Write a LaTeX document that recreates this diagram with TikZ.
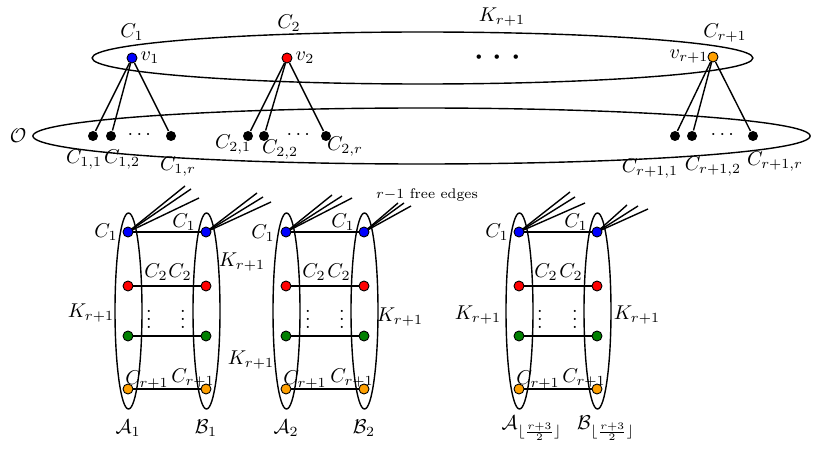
\documentclass[tikz,border=0pt]{standalone}
\usepackage{amsmath}
\begin{document}
\definecolor{vorange}{RGB}{255,160,0}
\definecolor{vgreen}{RGB}{0,128,0}
\begin{tikzpicture}[x=0.5pt,y=-0.5pt,line width=0.7pt,
  vtx/.style={circle,draw=black,inner sep=0pt,minimum size=5pt,line width=0.45pt},
  bdot/.style={circle,fill=black,inner sep=0pt,minimum size=5pt},
  lbl/.style={inner sep=0pt}]
\useasboundingbox (0,0) rectangle (830,449);

% ---- top part ----
\draw (422.5,58) ellipse [x radius=165.2pt, y radius=13pt];
\draw (421.5,136) ellipse [x radius=194.3pt, y radius=14pt];

\node[vtx,fill=blue] (v1) at (132,58) {};
\node[vtx,fill=red] (v2) at (287,58) {};
\node[vtx,fill=vorange] (vr) at (713,57) {};

\node[bdot] (c11) at (93,136) {};
\node[bdot] (c12) at (111,136) {};
\node[bdot] (c1r) at (171,136) {};
\node[bdot] (c21) at (248,136) {};
\node[bdot] (c22) at (264,136) {};
\node[bdot] (c2r) at (326,136) {};
\node[bdot] (cr1) at (675,136) {};
\node[bdot] (cr2) at (692,136) {};
\node[bdot] (crr) at (753,136) {};

\foreach \s in {c11,c12,c1r} \draw (v1) -- (\s);
\foreach \s in {c21,c22,c2r} \draw (v2) -- (\s);
\foreach \s in {cr1,cr2,crr} \draw (vr) -- (\s);

\node[lbl] (lC1) at (132,32) {$C_1$};
\node[lbl] (lC2) at (289,23) {$C_2$};
\node[lbl] (lK) at (502,17) {$K_{r+1}$};
\node[lbl] (lCr) at (725,33) {$C_{r+1}$};
\node[lbl] (lv1) at (150,58) {$v_1$};
\node[lbl] (lv2) at (305,58) {$v_2$};
\node[lbl] (lvr) at (689,57) {$v_{r+1}$};
\node[lbl] (tdots) at (501,58) {\huge$\cdots$};
\node[lbl] (lO) at (18,136) {$\mathcal{O}$};
\node[lbl] (d1) at (141,135) {$\cdots$};
\node[lbl] (d2) at (300,135) {$\cdots$};
\node[lbl] (d3) at (724,135) {$\cdots$};
\node[lbl] (l11) at (84,160) {$C_{1,1}$};
\node[lbl] (l12) at (122,160) {$C_{1,2}$};
\node[lbl] (l1r) at (178,167) {$C_{1,r}$};
\node[lbl] (l21) at (233,145) {$C_{2,1}$};
\node[lbl] (l22) at (280,150) {$C_{2,2}$};
\node[lbl] (l2r) at (345,147) {$C_{2,r}$};
\node[lbl] (lr1) at (650,169) {$C_{r+1,1}$};
\node[lbl] (lr2) at (713,167) {$C_{r+1,2}$};
\node[lbl] (lrr) at (775,162) {$C_{r+1,r}$};

% ---- lower groups ----
\foreach \g/\ax/\bx in {1/128/206, 2/286/364, 3/519/597} {
  \draw (\ax+0.5,311) ellipse [x radius=6.75pt, y radius=49pt];
  \draw (\bx+0.5,311) ellipse [x radius=6.75pt, y radius=49pt];
}

% free edges
\coordinate (e1a1) at (185,186); \coordinate (e1a2) at (191,189); \coordinate (e1a3) at (199,198);
\coordinate (e1b1) at (257,193); \coordinate (e1b2) at (263,197); \coordinate (e1b3) at (271,202);
\coordinate (e2a1) at (332,195); \coordinate (e2a2) at (342,196); \coordinate (e2a3) at (352,198);
\coordinate (e2b1) at (398,203); \coordinate (e2b2) at (404,203); \coordinate (e2b3) at (411,206);
\coordinate (e3a1) at (570,192); \coordinate (e3a2) at (575,197); \coordinate (e3a3) at (585,203);
\coordinate (e3b1) at (627,205); \coordinate (e3b2) at (638,206); \coordinate (e3b3) at (648,209);

\foreach \g/\ax/\bx in {1/128/206, 2/286/364, 3/519/597} {
  \coordinate (pa\g) at (\ax,232);
  \coordinate (pb\g) at (\bx,232);
  \foreach \k in {1,2,3} {
    \draw (pa\g) -- (e\g a\k);
    \draw (pb\g) -- (e\g b\k);
  }
  \node[vtx,fill=blue] (a\g b) at (\ax,232) {};
  \node[vtx,fill=red] (a\g r) at (\ax,286) {};
  \node[vtx,fill=vgreen] (a\g g) at (\ax,336) {};
  \node[vtx,fill=vorange] (a\g o) at (\ax,389) {};
  \node[vtx,fill=blue] (b\g b) at (\bx,232) {};
  \node[vtx,fill=red] (b\g r) at (\bx,286) {};
  \node[vtx,fill=vgreen] (b\g g) at (\bx,336) {};
  \node[vtx,fill=vorange] (b\g o) at (\bx,389) {};
  \foreach \c in {b,r,g,o} \draw (a\g\c) -- (b\g\c);
}

% group 1 labels
\node[lbl] (g1c1l) at (106,232) {$C_1$};
\node[lbl] (g1c1r) at (184,222) {$C_1$};
\node[lbl] (g1k1) at (242,262) {$K_{r+1}$};
\node[lbl] (g1c2l) at (156,272) {$C_2$};
\node[lbl] (g1c2r) at (180,272) {$C_2$};
\node[lbl] (g1vd1) at (149,313) {$\vdots$};
\node[lbl] (g1vd2) at (183,313) {$\vdots$};
\node[lbl] (g1k2) at (251,360) {$K_{r+1}$};
\node[lbl] (g1crl) at (147,380) {$C_{r+1}$};
\node[lbl] (g1crr) at (193,378) {$C_{r+1}$};
\node[lbl] (g1A) at (128,428) {$\mathcal{A}_1$};
\node[lbl] (g1B) at (206,428) {$\mathcal{B}_1$};
\node[lbl] (g1k0) at (91,313) {$K_{r+1}$};

% group 2 labels
\node[lbl] (g2c1l) at (263,233) {$C_1$};
\node[lbl] (g2c1r) at (343,222) {$C_1$};
\node[lbl] (g2c2l) at (314,272) {$C_2$};
\node[lbl] (g2c2r) at (339,272) {$C_2$};
\node[lbl] (g2vd1) at (308,313) {$\vdots$};
\node[lbl] (g2vd2) at (342,313) {$\vdots$};
\node[lbl] (g2k) at (400,317) {$K_{r+1}$};
\node[lbl] (g2crl) at (305,380) {$C_{r+1}$};
\node[lbl] (g2crr) at (352,378) {$C_{r+1}$};
\node[lbl] (g2A) at (286,428) {$\mathcal{A}_2$};
\node[lbl] (g2B) at (364,428) {$\mathcal{B}_2$};
\node[lbl] (free) at (427,195) {\scriptsize $r{-}1$ free edges};

% group 3 labels
\node[lbl] (g3c1l) at (497,232) {$C_1$};
\node[lbl] (g3c1r) at (576,222) {$C_1$};
\node[lbl] (g3c2l) at (546,272) {$C_2$};
\node[lbl] (g3c2r) at (571,272) {$C_2$};
\node[lbl] (g3vd1) at (540,313) {$\vdots$};
\node[lbl] (g3vd2) at (575,313) {$\vdots$};
\node[lbl] (g3kl) at (478,315) {$K_{r+1}$};
\node[lbl] (g3kr) at (637,315) {$K_{r+1}$};
\node[lbl] (g3crl) at (538,380) {$C_{r+1}$};
\node[lbl] (g3crr) at (584,378) {$C_{r+1}$};
\node[lbl] (g3A) at (532,428) {$\mathcal{A}_{\lfloor\frac{r+3}{2}\rfloor}$};
\node[lbl] (g3B) at (606,428) {$\mathcal{B}_{\lfloor\frac{r+3}{2}\rfloor}$};
\end{tikzpicture}
\end{document}
